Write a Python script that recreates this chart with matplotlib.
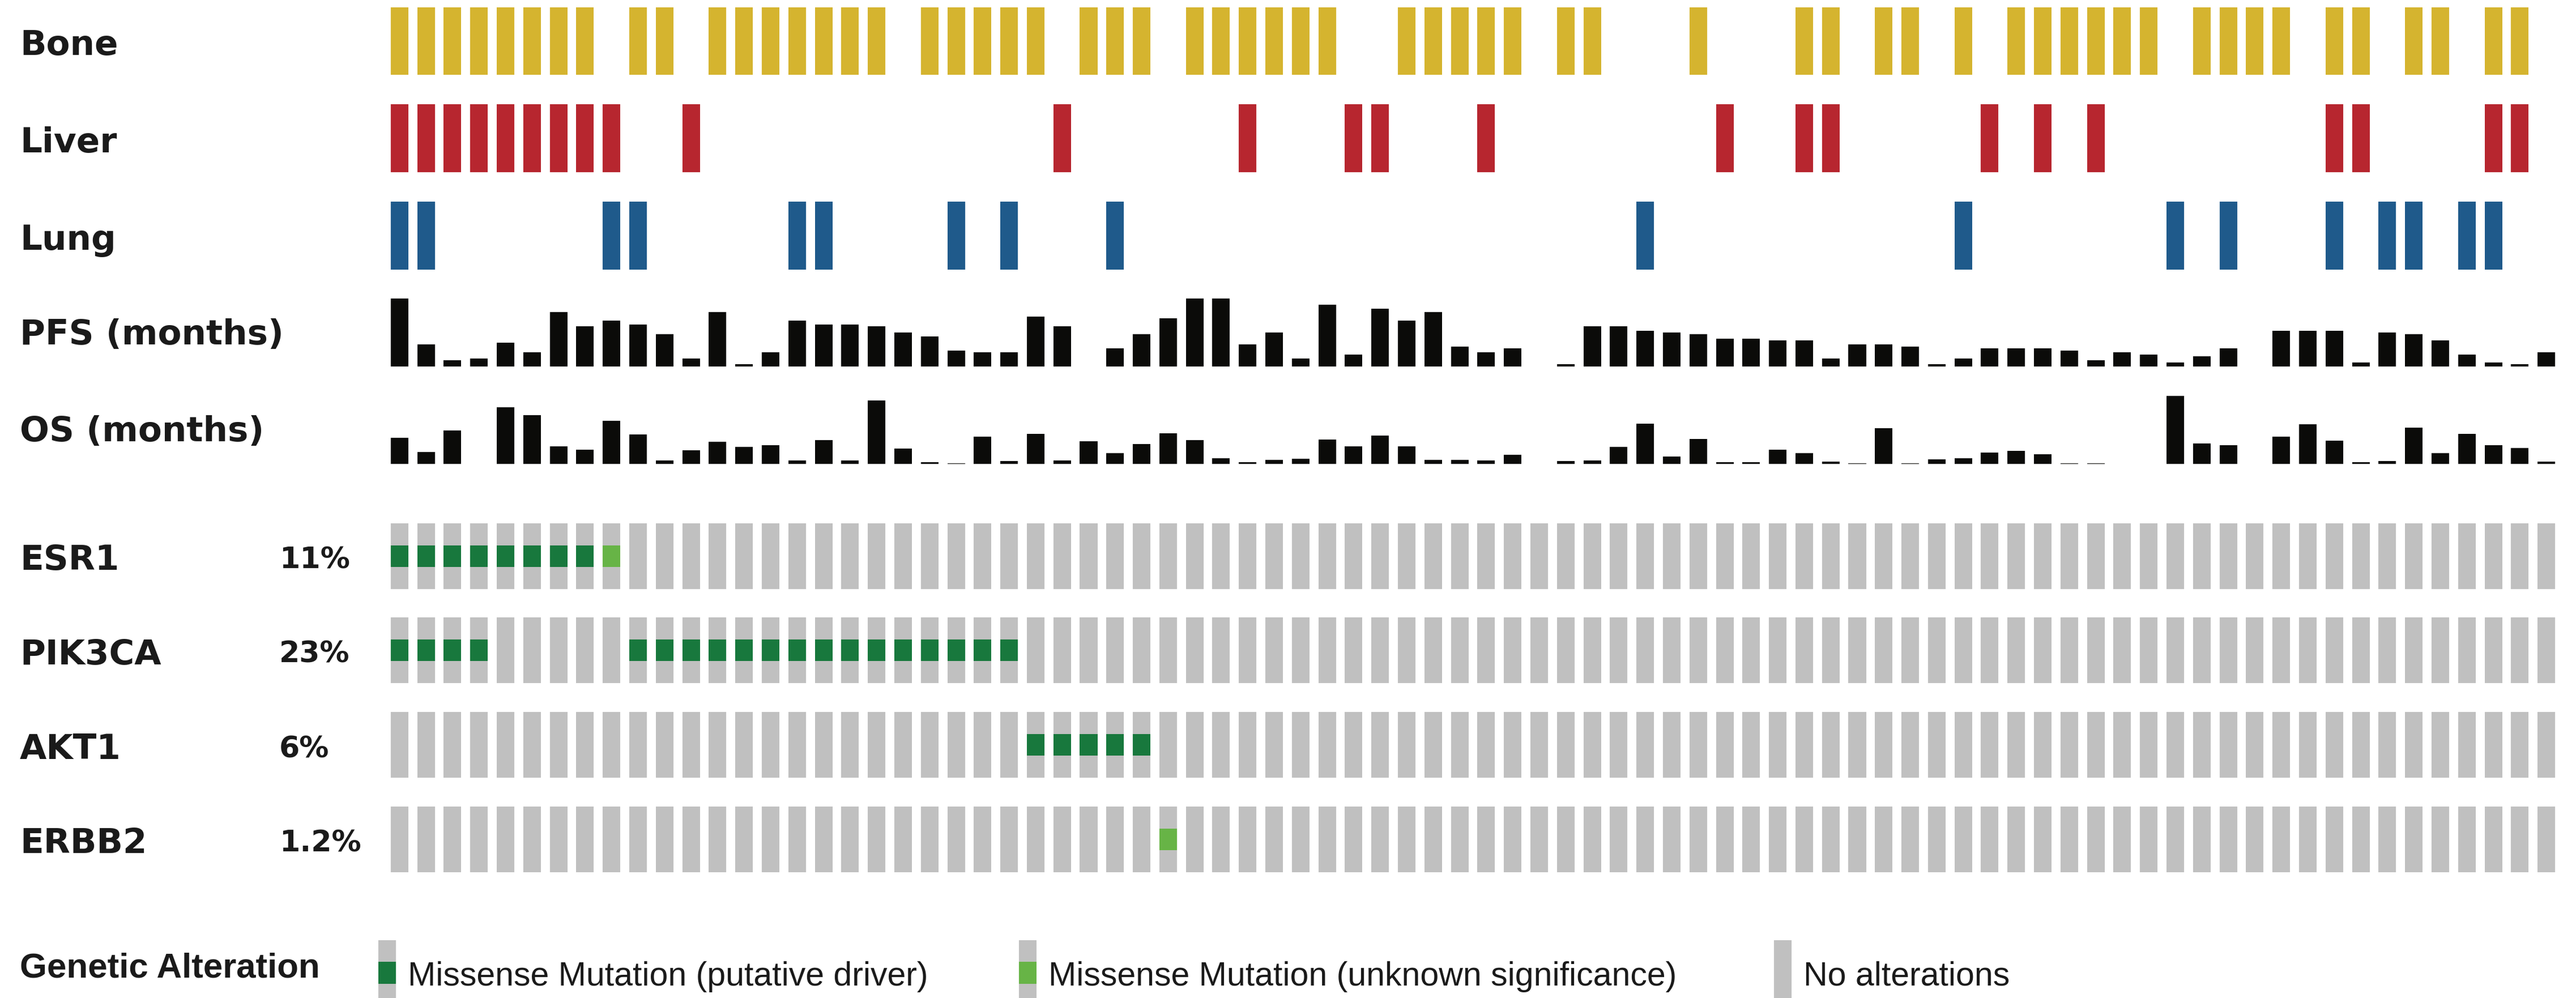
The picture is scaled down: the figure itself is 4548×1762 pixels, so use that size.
import matplotlib
matplotlib.use("Agg")
import matplotlib.pyplot as plt
from matplotlib.patches import Rectangle

# ---- data (82 samples, left to right) ----
n_samples = 82
bone_idx = [0, 1, 2, 3, 4, 5, 6, 7, 9, 10, 12, 13, 14, 15, 16, 17, 18, 20, 21, 22, 23, 24,
            26, 27, 28, 30, 31, 32, 33, 34, 35, 38, 39, 40, 41, 42, 44, 45, 49, 53, 54, 56, 57,
            59, 61, 62, 63, 64, 65, 66, 68, 69, 70, 71, 73, 74, 76, 77, 79, 80]
liver_idx = [0, 1, 2, 3, 4, 5, 6, 7, 8, 11, 25, 32, 36, 37, 41, 50, 53, 54, 60, 62, 64, 73, 74, 79, 80]
lung_idx = [0, 1, 8, 9, 15, 16, 21, 23, 27, 47, 59, 67, 69, 73, 75, 76, 78, 79]

pfs_months = [35.9, 11.7, 3.2, 4.3, 12.7, 7.5, 28.6, 21.1, 24.3, 22.2, 17.0, 4.3, 28.6, 1.1, 7.5, 24.3,
              22.2, 22.2, 21.1, 17.9, 15.9, 8.5, 7.4, 7.4, 26.4, 21.1, 0.0, 9.5, 17.0, 25.4, 35.9, 35.9,
              11.7, 17.9, 4.3, 32.7, 6.4, 30.6, 24.3, 28.6, 10.5, 7.5, 9.5, 0.0, 1.1, 21.1, 21.1, 18.9,
              17.9, 17.0, 14.7, 14.7, 13.7, 13.7, 4.3, 11.7, 11.7, 10.5, 1.1, 4.3, 9.5, 9.5, 9.5, 8.5,
              3.2, 7.5, 6.4, 2.1, 5.3, 9.5, 0.0, 18.9, 18.9, 18.9, 2.1, 17.9, 17.0, 13.7, 6.4, 2.1, 1.1, 7.5]
os_months = [13.7, 6.3, 17.8, 0.0, 29.8, 25.8, 9.2, 7.4, 22.6, 15.5, 1.7, 7.1, 11.6, 9.0, 9.9, 1.7,
             12.5, 1.7, 33.5, 8.1, 0.9, 0.3, 14.4, 1.4, 15.8, 1.7, 11.9, 5.8, 10.6, 16.3, 12.6, 3.0,
             0.8, 2.1, 2.6, 12.9, 9.4, 14.9, 9.4, 2.1, 2.1, 1.8, 4.8, 0.0, 1.6, 1.7, 9.1, 21.2, 3.9,
             13.1, 0.8, 0.8, 7.6, 5.6, 1.3, 0.4, 18.7, 0.4, 2.5, 2.9, 5.9, 6.8, 5.0, 0.2, 0.2, 0.1,
             0.0, 35.9, 10.9, 9.9, 0.0, 14.4, 20.9, 12.2, 1.0, 1.4, 19.0, 5.7, 16.0, 10.0, 8.3, 1.1]

genes = ["ESR1", "PIK3CA", "AKT1", "ERBB2"]
gene_pct = ["11%", "23%", "6%", "1.2%"]
driver_idx = {"ESR1": [0, 1, 2, 3, 4, 5, 6, 7],
              "PIK3CA": [0, 1, 2, 3, 9, 10, 11, 12, 13, 14, 15, 16, 17, 18, 19, 20, 21, 22, 23],
              "AKT1": [24, 25, 26, 27, 28],
              "ERBB2": []}
vus_idx = {"ESR1": [8], "PIK3CA": [], "AKT1": [], "ERBB2": [29]}

legend_labels = ["Missense Mutation (putative driver)", "Missense Mutation (unknown significance)",
                 "No alterations"]

# ---- style ----
c_bone, c_liver, c_lung = "#d5b42f", "#b7262f", "#1f5a8b"
c_bar, c_gray = "#0b0b09", "#c0c0c0"
c_driver, c_vus = "#18783d", "#67b446"
bw = 0.663

W, H = 4548, 1762
fig = plt.figure(figsize=(W / 100, H / 100), dpi=100)
x_left, x_right = 682, 4519


def track_ax(top, bottom):
    ax = fig.add_axes([x_left / W, 1 - bottom / H, (x_right - x_left) / W, (bottom - top) / H])
    ax.set_xlim(-0.5, n_samples - 0.5)
    ax.axis("off")
    return ax


def label(y, s, x=35, size=44, family="DejaVu Sans"):
    # small downward nudge: va=center includes the descent
    fig.text(x / W, 1 - (y + 8) / H, s, fontsize=size, fontweight="bold", family=family,
             va="center", ha="left", color="#1a1a1a")


# clinical tracks
for (top, bot), name, idx, col in [((13, 132), "Bone", bone_idx, c_bone),
                                    ((184, 304), "Liver", liver_idx, c_liver),
                                    ((356, 476), "Lung", lung_idx, c_lung)]:
    ax = track_ax(top, bot)
    ax.bar(idx, [1] * len(idx), width=bw, color=col)
    ax.set_ylim(0, 1)
    label((top + bot) / 2, name)

for (top, bot), name, vals in [((527, 647), "PFS (months)", pfs_months),
                               ((699, 819), "OS (months)", os_months)]:
    ax = track_ax(top, bot)
    ax.bar(range(n_samples), vals, width=bw, color=c_bar)
    ax.set_ylim(0, max(vals))
    label((top + bot) / 2 - 4, name)

# gene rows
gene_rows = [(924, 1040), (1090, 1206), (1257, 1373), (1424, 1540)]
for (top, bot), g, pct in zip(gene_rows, genes, gene_pct):
    ax = track_ax(top, bot)
    ax.bar(range(n_samples), [1] * n_samples, width=bw, color=c_gray)
    d = driver_idx[g]
    v = vus_idx[g]
    ax.bar(d, [1 / 3] * len(d), bottom=1 / 3, width=bw, color=c_driver)
    ax.bar(v, [1 / 3] * len(v), bottom=1 / 3, width=bw, color=c_vus)
    ax.set_ylim(0, 1)
    label((top + bot) / 2, g)
    label((top + bot) / 2, pct, x=493, size=37.5)

# legend
fig.text(35 / W, 1 - 1725 / H, "Genetic Alteration", fontsize=44.5, fontweight="bold",
         family="Liberation Sans", va="baseline", ha="left", color="#1a1a1a")
key_x = [668, 1799, 3132]
key_fill = [c_driver, c_vus, None]
for kx, kf, txt in zip(key_x, key_fill, legend_labels):
    fig.add_artist(Rectangle((kx / W, 1 - 1776 / H), 31 / W, 116 / H,
                             transform=fig.transFigure, color=c_gray, lw=0))
    if kf:
        fig.add_artist(Rectangle((kx / W, 1 - 1737 / H), 31 / W, 38.7 / H,
                                 transform=fig.transFigure, color=kf, lw=0))
    fig.text((kx + 52) / W, 1 - 1740 / H, txt, fontsize=42.5, family="Liberation Sans",
             va="baseline", ha="left", color="#1a1a1a")

fig.savefig("out.png", dpi=100, facecolor="white")
